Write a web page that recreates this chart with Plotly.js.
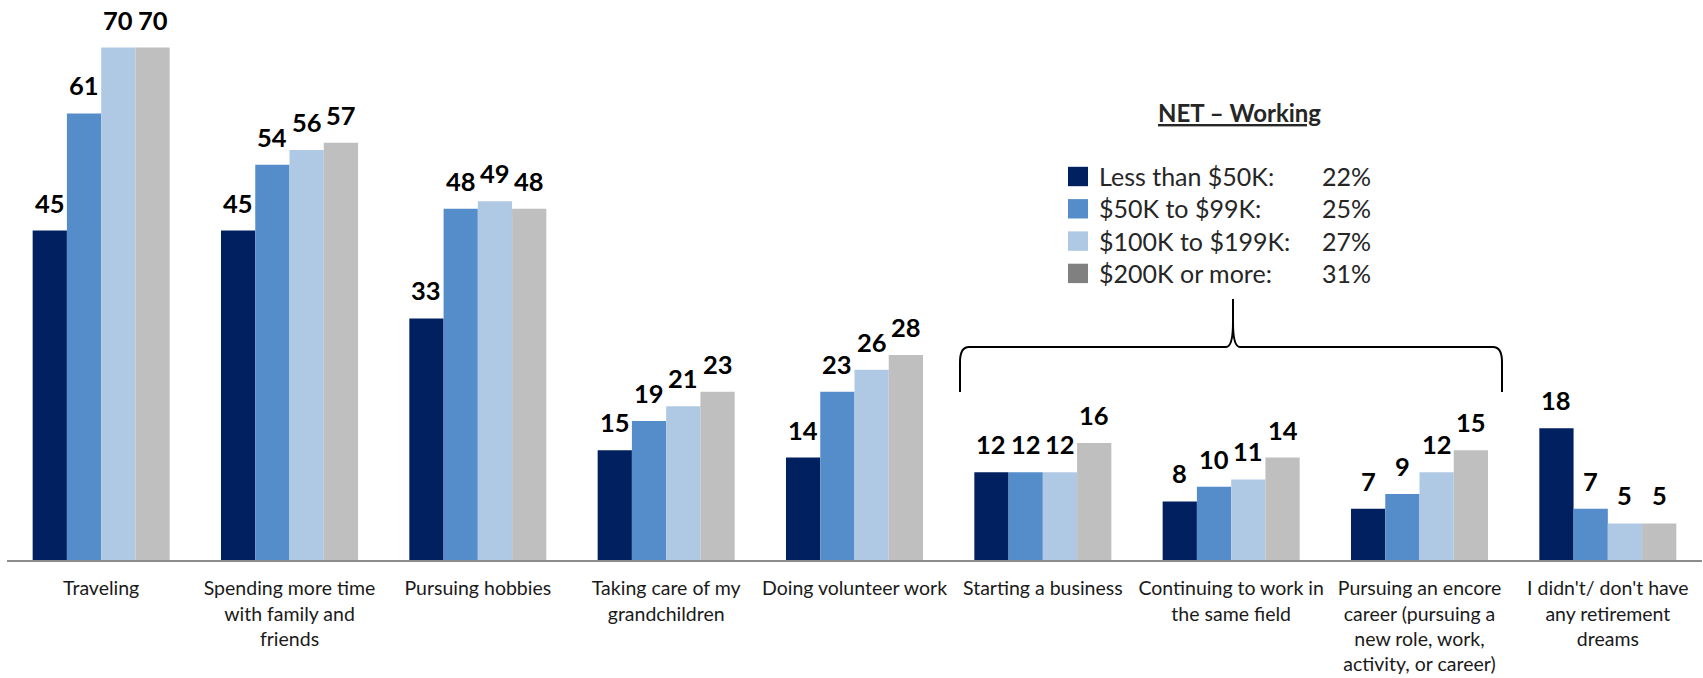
<!DOCTYPE html>
<html>
<head>
<meta charset="utf-8">
<script src="https://cdn.plot.ly/plotly-3.0.1.min.js"></script>
<style>
  html, body { margin: 0; padding: 0; background: #fff; }
  #plot { width: 1703px; height: 678px; }
</style>
</head>
<body>
<div id="plot"></div>
<script>
// retirement dreams by household income
const categories = [
    'Traveling',
    'Spending more time<br>with family and<br>friends',
    'Pursuing hobbies',
    'Taking care of my<br>grandchildren',
    'Doing volunteer work',
    'Starting a business',
    'Continuing to work in<br>the same field',
    'Pursuing an encore<br>career (pursuing a<br>new role, work,<br>activity, or career)',
    "I didn't/ don't have<br>any retirement<br>dreams"
];
const seriesNames = ['Less than $50K:', '$50K to $99K:', '$100K to $199K:', '$200K or more:'];
const under50k = [45, 45, 33, 15, 14, 12, 8, 7, 18];
const from50to99k = [61, 54, 48, 19, 23, 12, 10, 9, 7];
const from100to199k = [70, 56, 49, 21, 26, 12, 11, 12, 5];
const over200k = [70, 57, 48, 23, 28, 16, 14, 15, 5];
const netWorking = [22, 25, 27, 31];

const barColors = ['#002060', '#558DCA', '#AFC9E4', '#BFBFBF'];
const swatchColors = ['#002060', '#558DCA', '#AFC9E4', '#808080'];

const W = 1703, H = 678;
const ML = 7, MR = 1, MT = 0, MB = 118;
const px = x => (x - ML) / (W - ML - MR);
const py = y => (H - MB - y) / (H - MT - MB);

const idx = categories.map((c, i) => i);
const allSeries = [under50k, from50to99k, from100to199k, over200k];
const bargap = 0.2725;
const barW = (1 - bargap) / allSeries.length;

const data = allSeries.map((vals, s) => ({
    type: 'bar',
    x: idx,
    y: vals,
    name: seriesNames[s],
    marker: {color: barColors[s], line: {width: 0}},
    hoverinfo: 'none'
}));

const annotations = [];
allSeries.forEach((vals, s) => {
    const off = -(1 - bargap) / 2 + (s + 0.5) * barW;
    vals.forEach((v, i) => {
        annotations.push({
            x: i + off, y: v, xref: 'x', yref: 'y',
            text: '<b>' + v + '</b>',
            showarrow: false, yanchor: 'bottom', yshift: 11,
            font: {size: 25.5, color: '#000000'}
        });
    });
});

// NET - Working box
annotations.push({
    x: px(1239.5), y: py(113), xref: 'paper', yref: 'paper',
    text: '<b><u>NET \u2013 Working</u></b>',
    showarrow: false, xanchor: 'center', yanchor: 'middle',
    font: {size: 24, color: '#262626'}
});
const shapes = [];
seriesNames.forEach((name, i) => {
    const rowY = 176.5 + 32.3 * i;
    annotations.push({
        x: px(1097), y: py(rowY - 0.5), xref: 'paper', yref: 'paper',
        text: name, showarrow: false, xanchor: 'left', yanchor: 'middle',
        font: {size: 25, color: '#262626'}
    });
    annotations.push({
        x: px(1373), y: py(rowY - 0.5), xref: 'paper', yref: 'paper',
        text: netWorking[i] + '%', showarrow: false, xanchor: 'right', yanchor: 'middle',
        font: {size: 25, color: '#262626'}
    });
    shapes.push({
        type: 'rect', xref: 'paper', yref: 'paper',
        x0: px(1068), x1: px(1088), y0: py(rowY + 9.7), y1: py(rowY - 9.7),
        fillcolor: swatchColors[i], line: {width: 0}
    });
});

// curly bracket over the "working" categories
const P = (x, y) => px(x) + ',' + py(y);
const bracket = [
    'M', P(960, 392), 'L', P(960, 362),
    'Q', P(960, 347), P(969, 347),
    'L', P(1226, 347),
    'C', P(1231, 347), P(1233, 336), P(1233, 322),
    'L', P(1233, 299), 'L', P(1233, 322),
    'C', P(1233, 336), P(1235, 347), P(1240, 347),
    'L', P(1493, 347),
    'Q', P(1502, 347), P(1502, 362),
    'L', P(1502, 392)
].join(' ');
shapes.push({
    type: 'path', xref: 'paper', yref: 'paper', path: bracket,
    line: {color: '#000000', width: 2}, fillcolor: 'rgba(0,0,0,0)'
});

const layout = {
    width: W, height: H,
    margin: {l: ML, r: MR, t: MT, b: MB},
    paper_bgcolor: '#ffffff', plot_bgcolor: '#ffffff',
    font: {family: 'Lato, "Open Sans", sans-serif', color: '#1a1a1a'},
    barmode: 'group', bargap: bargap, bargroupgap: 0,
    showlegend: false,
    xaxis: {
        range: [-0.5, categories.length - 0.5],
        tickvals: idx, ticktext: categories,
        showgrid: false, zeroline: false,
        showline: true, linecolor: '#8C8C8C', linewidth: 2,
        ticks: '', ticklabelstandoff: 10,
        tickfont: {size: 19.5, color: '#1a1a1a'},
        fixedrange: true
    },
    yaxis: {
        range: [0, 560 / 7.32], visible: false, fixedrange: true
    },
    annotations: annotations,
    shapes: shapes
};

Plotly.newPlot('plot', data, layout, {displayModeBar: false, staticPlot: true});
</script>
</body>
</html>
